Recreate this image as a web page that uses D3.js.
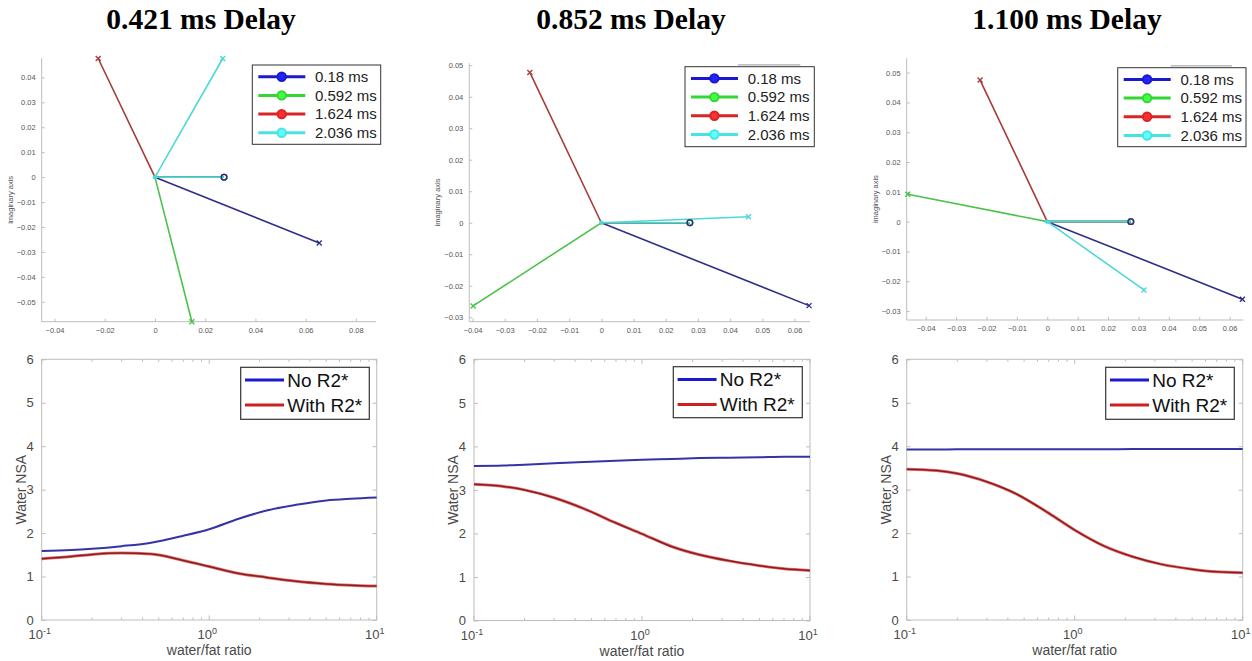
<!DOCTYPE html>
<html>
<head>
<meta charset="utf-8">
<script src="https://cdn.jsdelivr.net/npm/d3@7"></script>
<style>
  body { margin: 0; background: #fff; }
  svg { display: block; }
</style>
</head>
<body>
<div id="chart"></div>
<script>
/* DATA */
const delayTitles = ["0.421 ms Delay", "0.852 ms Delay", "1.100 ms Delay"];
const echoLabels = ["0.18 ms", "0.592 ms", "1.624 ms", "2.036 ms"];

// reference vector (all echoes start here) and the rotated end points
const refRe = 0.0275, refIm = 0;
const endRe421 = [0.0654, 0.0147, -0.0226, 0.0270];
const endIm421 = [-0.0264, -0.0580, 0.0476, 0.0476];
const endRe852 = [0.0645, -0.0398, -0.0222, 0.0457];
const endIm852 = [-0.0263, -0.0264, 0.0477, 0.0019];
const endRe1100 = [0.0642, -0.0459, -0.0221, 0.0318];
const endIm1100 = [-0.0260, 0.0092, 0.0475, -0.0229];

const xTicks421 = [-0.04, -0.02, 0, 0.02, 0.04, 0.06, 0.08];
const yTicks421 = [-0.05, -0.04, -0.03, -0.02, -0.01, 0, 0.01, 0.02, 0.03, 0.04];
const xTicks852 = [-0.04, -0.03, -0.02, -0.01, 0, 0.01, 0.02, 0.03, 0.04, 0.05, 0.06];
const yTicks852 = [-0.03, -0.02, -0.01, 0, 0.01, 0.02, 0.03, 0.04, 0.05];
const xTicks1100 = [-0.04, -0.03, -0.02, -0.01, 0, 0.01, 0.02, 0.03, 0.04, 0.05, 0.06];
const yTicks1100 = [-0.03, -0.02, -0.01, 0, 0.01, 0.02, 0.03, 0.04, 0.05];

// water NSA vs water/fat ratio
const ratio = [0.1, 0.15, 0.2, 0.3, 0.45, 0.7, 1, 1.5, 2.2, 3.3, 5, 7, 10];
const noR2_421   = [1.59, 1.61, 1.64, 1.70, 1.78, 1.94, 2.09, 2.33, 2.52, 2.65, 2.75, 2.79, 2.82];
const withR2_421 = [1.41, 1.46, 1.51, 1.54, 1.52, 1.37, 1.23, 1.07, 0.98, 0.89, 0.83, 0.80, 0.78];
const noR2_852   = [3.55, 3.56, 3.58, 3.61, 3.64, 3.67, 3.69, 3.71, 3.73, 3.74, 3.75, 3.76, 3.76];
const withR2_852 = [3.13, 3.08, 3.00, 2.82, 2.57, 2.24, 1.99, 1.70, 1.51, 1.37, 1.26, 1.19, 1.15];
const noR2_1100   = [3.925, 3.926, 3.927, 3.928, 3.929, 3.930, 3.931, 3.932, 3.933, 3.934, 3.935, 3.936, 3.937];
const withR2_1100 = [3.47, 3.44, 3.37, 3.18, 2.90, 2.46, 2.07, 1.70, 1.46, 1.28, 1.17, 1.11, 1.09];
const nsaTicks = [0, 1, 2, 3, 4, 5, 6];
const nsaLegend = ["No R2*", "With R2*"];

/* LAYOUT */
const W = 1252, H = 661;
const plotCol = ["#2e2e8a", "#4cc24c", "#a83c3c", "#4dd8d8"];
const legCol = ["#1a1acc", "#33d633", "#d82424", "#48e4e4"];
const axisGrey = "#bdbdbd", textGrey = "#4a4a4a";
const sans = "'Liberation Sans', Arial, sans-serif";

const topPanels = [
  { x0: 41.7, x1: 376, y0: 58, y1: 321.7, xd: [-0.0451, 0.088], yd: [-0.058, 0.0478],
    re: endRe421, im: endIm421, xt: xTicks421, yt: yTicks421, leg: [252.3, 65, 128.4, 79.3], tx: 201, mark: false },
  { x0: 469.3, x1: 810, y0: 63.3, y1: 321.7, xd: [-0.041, 0.0648], yd: [-0.0314, 0.0506],
    re: endRe852, im: endIm852, xt: xTicks852, yt: yTicks852, leg: [685, 66.7, 129.3, 80], tx: 631, mark: true },
  { x0: 906.7, x1: 1243.3, y0: 58.3, y1: 320, xd: [-0.04625, 0.0645], yd: [-0.033, 0.0548],
    re: endRe1100, im: endIm1100, xt: xTicks1100, yt: yTicks1100, leg: [1117.7, 67.7, 128.3, 79], tx: 1067, mark: true }
];
const botPanels = [
  { x0: 41.7, x1: 376.7, y0: 359.3, y1: 620, no: noR2_421, wi: withR2_421, leg: [240.7, 367.3, 128.6, 52] },
  { x0: 474, x1: 810, y0: 359.3, y1: 620.5, no: noR2_852, wi: withR2_852, leg: [673.3, 366.7, 129, 51] },
  { x0: 906.7, x1: 1242.7, y0: 359.3, y1: 620, no: noR2_1100, wi: withR2_1100, leg: [1105.7, 367.3, 128.6, 52] }
];

const svg = d3.select("#chart").append("svg").attr("width", W).attr("height", H);

const fmtTick = d => d === 0 ? "0" : d3.format(".2f")(d);

/* TOP ROW: phasor plots */
topPanels.forEach((p, k) => {
  const x = d3.scaleLinear().domain(p.xd).range([p.x0, p.x1]);
  const y = d3.scaleLinear().domain(p.yd).range([p.y1, p.y0]);
  const g = svg.append("g");

  // title
  svg.append("text")
    .attr("x", p.tx).attr("y", 28.5)
    .attr("text-anchor", "middle")
    .attr("font-family", "'Liberation Serif', 'Times New Roman', serif")
    .attr("font-weight", "bold")
    .attr("font-size", 29.5)
    .text(delayTitles[k]);

  // axes (left and bottom only)
  const xAxis = d3.axisBottom(x).tickValues(p.xt).tickSize(-3).tickPadding(6).tickFormat(fmtTick);
  const yAxis = d3.axisLeft(y).tickValues(p.yt).tickSize(-3).tickPadding(6).tickFormat(fmtTick);
  const gx = g.append("g").attr("transform", `translate(0,${p.y1})`).call(xAxis);
  const gy = g.append("g").attr("transform", `translate(${p.x0},0)`).call(yAxis);
  [gx, gy].forEach(a => {
    a.select(".domain").remove();
    a.selectAll(".tick line").attr("stroke", axisGrey);
    a.selectAll(".tick text").attr("fill", "#555").attr("font-family", sans).attr("font-size", 7.5);
  });
  g.append("line").attr("x1", p.x0).attr("x2", p.x1).attr("y1", p.y1).attr("y2", p.y1).attr("stroke", axisGrey);
  g.append("line").attr("x1", p.x0).attr("x2", p.x0).attr("y1", p.y0).attr("y2", p.y1).attr("stroke", axisGrey);

  g.append("text")
    .attr("transform", `translate(${p.x0 - 29},${(p.y0 + p.y1) / 2 + 10}) rotate(-90)`)
    .attr("text-anchor", "middle")
    .attr("font-family", sans).attr("font-size", 7.5).attr("fill", "#555")
    .text("imaginary axis");

  // vectors: reference -> origin -> rotated end point
  const line = d3.line().x(d => x(d[0])).y(d => y(d[1]));
  echoLabels.forEach((lab, i) => {
    g.append("path")
      .attr("d", line([[refRe, refIm], [0, 0], [p.re[i], p.im[i]]]))
      .attr("fill", "none").attr("stroke", plotCol[i]).attr("stroke-width", 1.6);
  });
  // end markers (x)
  echoLabels.forEach((lab, i) => {
    const cx = x(p.re[i]), cy = y(p.im[i]);
    g.append("path")
      .attr("d", `M${cx - 2.5},${cy - 2.5}L${cx + 2.5},${cy + 2.5}M${cx - 2.5},${cy + 2.5}L${cx + 2.5},${cy - 2.5}`)
      .attr("stroke", plotCol[i]).attr("stroke-width", 1.4);
  });
  // reference markers (o), dark one on top
  [3, 2, 1, 0].forEach(i => {
    g.append("circle").attr("cx", x(refRe)).attr("cy", y(refIm)).attr("r", 2.8)
      .attr("fill", "none").attr("stroke", plotCol[i]).attr("stroke-width", 1.3);
  });
  g.append("circle").attr("cx", x(0)).attr("cy", y(0)).attr("r", 2.2).attr("fill", plotCol[3]);

  // legend
  const [lx, ly, lw, lh] = p.leg;
  const leg = g.append("g").attr("transform", `translate(${lx},${ly})`);
  if (p.mark) {
    // faint outline peeking above the legend box
    leg.append("line").attr("x1", 53).attr("x2", lw - 14).attr("y1", -1.8).attr("y2", -1.8)
      .attr("stroke", "#999").attr("stroke-width", 1);
  }
  leg.append("rect").attr("width", lw).attr("height", lh)
    .attr("fill", "#fff").attr("stroke", "#333").attr("stroke-width", 1);
  echoLabels.forEach((lab, i) => {
    const ry = 11.7 + i * 18.7;
    leg.append("line").attr("x1", 6).attr("x2", 53).attr("y1", ry).attr("y2", ry)
      .attr("stroke", legCol[i]).attr("stroke-width", 3);
    leg.append("circle").attr("cx", 29.4).attr("cy", ry).attr("r", 4.2)
      .attr("fill", d3.color(legCol[i]).brighter(0.8)).attr("stroke", legCol[i]).attr("stroke-width", 2);
    leg.append("text").attr("x", 62.7).attr("y", ry + 5.3)
      .attr("font-family", sans).attr("font-size", 15).attr("fill", "#222")
      .text(lab);
  });
});

/* BOTTOM ROW: water NSA */
botPanels.forEach((p, k) => {
  const x = d3.scaleLog().domain([0.1, 10]).range([p.x0, p.x1]);
  const y = d3.scaleLinear().domain([0, 6]).range([p.y1, p.y0]);
  const g = svg.append("g");

  g.append("rect").attr("x", p.x0).attr("y", p.y0)
    .attr("width", p.x1 - p.x0).attr("height", p.y1 - p.y0)
    .attr("fill", "none").attr("stroke", axisGrey);

  // y ticks, both sides
  const yAxis = d3.axisLeft(y).tickValues(nsaTicks).tickSize(-4).tickPadding(8).tickFormat(d3.format("d"));
  const gy = g.append("g").attr("transform", `translate(${p.x0},0)`).call(yAxis);
  gy.select(".domain").remove();
  gy.selectAll(".tick line").attr("stroke", axisGrey);
  gy.selectAll(".tick text").attr("fill", textGrey).attr("font-family", sans).attr("font-size", 13);
  const gy2 = g.append("g").attr("transform", `translate(${p.x1},0)`)
    .call(d3.axisRight(y).tickValues(nsaTicks).tickSize(-4).tickFormat(""));
  gy2.select(".domain").remove();
  gy2.selectAll(".tick line").attr("stroke", axisGrey);

  // x ticks (log, major + minor), top and bottom
  const minor = [];
  [0.1, 1].forEach(dec => d3.range(2, 10).forEach(m => minor.push(dec * m)));
  const major = [0.1, 1, 10];
  [[p.y1, -1], [p.y0, 1]].forEach(([yy, s]) => {
    g.selectAll(null).data(minor).join("line")
      .attr("x1", d => x(d)).attr("x2", d => x(d))
      .attr("y1", yy).attr("y2", yy + s * 2.5).attr("stroke", axisGrey);
    g.selectAll(null).data(major).join("line")
      .attr("x1", d => x(d)).attr("x2", d => x(d))
      .attr("y1", yy).attr("y2", yy + s * 4.5).attr("stroke", axisGrey);
  });
  const xl = g.selectAll(null).data(major).join("text")
    .attr("x", d => x(d) - 2).attr("y", p.y1 + 19)
    .attr("text-anchor", "middle")
    .attr("font-family", sans).attr("font-size", 13).attr("fill", textGrey);
  xl.append("tspan").text("10");
  xl.append("tspan").attr("dy", -5).attr("font-size", 9).text(d => Math.round(Math.log10(d)));

  g.append("text")
    .attr("x", (p.x0 + p.x1) / 2).attr("y", p.y1 + 35)
    .attr("text-anchor", "middle")
    .attr("font-family", sans).attr("font-size", 14).attr("fill", textGrey)
    .text("water/fat ratio");
  g.append("text")
    .attr("transform", `translate(${p.x0 - 16},${(p.y0 + p.y1) / 2}) rotate(-90)`)
    .attr("text-anchor", "middle")
    .attr("font-family", sans).attr("font-size", 14).attr("fill", textGrey)
    .text("Water NSA");

  const line = d3.line().curve(d3.curveMonotoneX).x((d, i) => x(ratio[i])).y(d => y(d));
  g.append("path").attr("d", line(p.no)).attr("fill", "none")
    .attr("stroke", "#3434a6").attr("stroke-width", 2);
  g.append("path").attr("d", line(p.wi)).attr("fill", "none")
    .attr("stroke", "#e07070").attr("stroke-width", 3);
  g.append("path").attr("d", line(p.wi)).attr("fill", "none")
    .attr("stroke", "#8e1c1c").attr("stroke-width", 1.5);

  // legend
  const [lx, ly, lw, lh] = p.leg;
  const leg = g.append("g").attr("transform", `translate(${lx},${ly})`);
  leg.append("rect").attr("width", lw).attr("height", lh)
    .attr("fill", "#fff").attr("stroke", "#333").attr("stroke-width", 1.2);
  const nsaCol = ["#1a1acc", "#cc2020"];
  nsaLegend.forEach((lab, i) => {
    const ry = 12.7 + i * 25;
    leg.append("line").attr("x1", 4.3).attr("x2", 43.3).attr("y1", ry).attr("y2", ry)
      .attr("stroke", nsaCol[i]).attr("stroke-width", 3);
    leg.append("text").attr("x", 46.5).attr("y", ry + 7)
      .attr("font-family", sans).attr("font-size", 19).attr("fill", "#111")
      .text(lab);
  });
});
</script>
</body>
</html>
